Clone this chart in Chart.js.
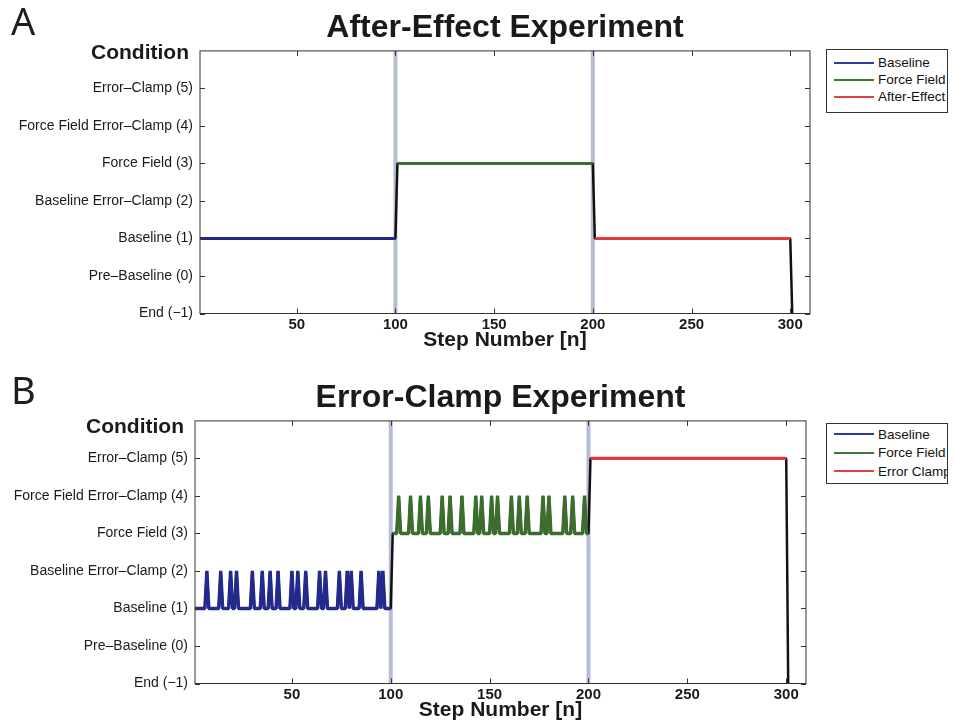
<!DOCTYPE html>
<html>
<head>
<meta charset="utf-8">
<script src="https://cdn.jsdelivr.net/npm/chart.js@4.4.1/dist/chart.umd.min.js"></script>
<style>
  html, body { margin: 0; padding: 0; background: #fff; overflow: hidden; }
  body { width: 955px; height: 728px; position: relative; font-family: 'Liberation Sans', Arial, sans-serif; }
  .panel { position: absolute; left: 0; width: 955px; height: 358px; }
  .panel canvas { position: absolute; left: 0; top: 0; }
  .tag { position: absolute; left: 11px; font-family: 'Noto Sans', 'Open Sans', sans-serif; font-size: 38px; line-height: 38px; color: #1e1e1e; }
  .legend { position: absolute; left: 826px; width: 122px; box-sizing: border-box; border: 1px solid #333; background: #fff;
            font-size: 13.5px; color: #111; overflow: hidden; }
  .legend .row { display: flex; align-items: center; white-space: nowrap; }
  .legend .ln { display: inline-block; flex-shrink: 0; width: 40px; height: 2px; margin: 0 4px 0 7px; }
</style>
</head>
<body>
<div class="panel" style="top:0">
  <canvas id="chartA" width="955" height="358"></canvas>
  <div class="tag" style="top:1px">A</div>
  <div class="legend" id="legendA" style="top:49px; padding:4px 0 7px"></div>
</div>
<div class="panel" style="top:370px">
  <canvas id="chartB" width="955" height="358"></canvas>
  <div class="tag" style="top:0px">B</div>
  <div class="legend" id="legendB" style="top:53px; padding:1px 0 2px"></div>
</div>
<script>
// Achse
const xTicks = [50, 100, 150, 200, 250, 300];
const yTicks = [-1, 0, 1, 2, 3, 4, 5];
const yLabels = ['End (\u22121)', 'Pre\u2013Baseline (0)', 'Baseline (1)', 'Baseline Error\u2013Clamp (2)',
                 'Force Field (3)', 'Force Field Error\u2013Clamp (4)', 'Error\u2013Clamp (5)'];

// Phasen (Schritte)
const phaseStart = [1, 101, 201];
const phaseEnd = [100, 200, 300];
const phaseBounds = [100, 200];
const endStep = 301;
const endLevel = -1;

// A: After-Effect
const levelsA = [1, 3, 1];
const namesA = ['Baseline', 'Force Field', 'After-Effect'];

// B: Error-Clamp, Schritte mit Error-Clamp-Versuch
const levelsB = [1, 3, 5];
const namesB = ['Baseline', 'Force Field', 'Error Clamp'];
const baselineClampB = [7, 14, 19, 22, 30, 35, 39, 43, 50, 53, 57, 64, 67, 74, 78, 80, 85, 94, 96];
const forceFieldClampB = [104, 110, 115, 119, 126, 130, 136, 143, 146, 151, 154, 161, 165, 169, 177, 180, 188, 192, 198];

const phaseColors = ['#232a8c', '#3b6e2e', '#e23a3a'];
const legendColors = ['#2b3aa8', '#3d7a35', '#e0403f'];

Chart.defaults.font.family = "'Liberation Sans', Arial, sans-serif";
Chart.defaults.color = '#1a1a1a';

// Rahmen mit Ticks nach innen (wie Matlab)
const axesBox = {
    id: 'axesBox',
    afterDatasetsDraw(chart) {
        const { ctx, chartArea: a, scales: { x, y } } = chart;
        ctx.save();
        ctx.strokeStyle = '#333';
        ctx.lineWidth = 1;
        ctx.strokeRect(a.left, a.top, a.width, a.height);
        ctx.beginPath();
        x.ticks.forEach(t => {
            const px = Math.round(x.getPixelForValue(t.value)) + 0.5;
            ctx.moveTo(px, a.bottom); ctx.lineTo(px, a.bottom - 5);
            ctx.moveTo(px, a.top); ctx.lineTo(px, a.top + 5);
        });
        y.ticks.forEach(t => {
            const py = Math.round(y.getPixelForValue(t.value)) + 0.5;
            ctx.moveTo(a.left, py); ctx.lineTo(a.left + 5, py);
            ctx.moveTo(a.right, py); ctx.lineTo(a.right - 5, py);
        });
        ctx.stroke();
        ctx.restore();
    }
};

// "Condition" oben links
const conditionLabel = {
    id: 'conditionLabel',
    afterDraw(chart, args, opts) {
        const { ctx, chartArea } = chart;
        ctx.save();
        ctx.font = "bold 21px 'Liberation Sans', Arial, sans-serif";
        ctx.fillStyle = '#1a1a1a';
        ctx.textAlign = 'right';
        ctx.textBaseline = 'middle';
        ctx.fillText('Condition', chartArea.left - 11, chartArea.top + opts.dy);
        ctx.restore();
    }
};

function phasePoints(i, levels, clampSteps) {
    const pts = [];
    for (let s = phaseStart[i]; s <= phaseEnd[i]; s++) {
        pts.push({ x: s, y: clampSteps.includes(s) ? levels[i] + 1 : levels[i] });
    }
    return pts;
}

function makeChart(id, title, levels, names, clampSteps, opts) {
    const phases = levels.map((l, i) => phasePoints(i, levels, clampSteps));
    const allPts = phases.flat().concat([{ x: endStep, y: endLevel }]);

    const datasets = [];
    phases.forEach((pts, i) => {
        datasets.push({ label: names[i], data: pts, borderColor: phaseColors[i], borderWidth: opts.lw, order: 1 });
    });
    datasets.push({ label: 'transition', data: allPts, borderColor: '#111', borderWidth: 2.5, order: 2 });
    phaseBounds.forEach(b => {
        datasets.push({ label: 'bound', data: [{ x: b, y: -1 }, { x: b, y: 6 }],
                        borderColor: 'rgba(150,160,195,0.7)', borderWidth: 4, order: 3 });
    });

    return new Chart(document.getElementById(id), {
        type: 'line',
        data: { datasets: datasets },
        options: {
            responsive: false,
            animation: false,
            devicePixelRatio: 1,
            elements: { point: { radius: 0 }, line: { tension: 0, borderJoinStyle: 'bevel' } },
            layout: { padding: { left: 0, right: opts.padRight, top: 0, bottom: 0 } },
            plugins: {
                legend: { display: false },
                tooltip: { enabled: false },
                title: {
                    display: true,
                    text: title,
                    fullSize: false,
                    color: '#1a1a1a',
                    font: { size: 32, weight: 'bold' },
                    padding: { top: 9, bottom: 3.5 }
                },
                conditionLabel: { dy: opts.condDy }
            },
            scales: {
                x: {
                    type: 'linear',
                    min: 1,
                    max: 310,
                    afterBuildTicks: s => { s.ticks = xTicks.map(v => ({ value: v })); },
                    afterFit: s => { s.height = 44.5; },
                    grid: { display: false, drawTicks: false },
                    border: { display: false },
                    ticks: { padding: 2, autoSkip: false, maxRotation: 0, color: '#1a1a1a',
                             font: { size: 15, weight: 'bold' } },
                    title: { display: true, text: 'Step Number [n]', color: '#1a1a1a',
                             font: { size: 21, weight: 'bold' }, padding: { top: 0, bottom: 5 } }
                },
                y: {
                    type: 'linear',
                    min: -1,
                    max: 6,
                    afterBuildTicks: s => { s.ticks = yTicks.map(v => ({ value: v })); },
                    afterFit: s => { s.width = opts.yWidth; },
                    grid: { display: false, drawTicks: false },
                    border: { display: false },
                    ticks: { padding: 7, autoSkip: false, color: '#1a1a1a', font: { size: 14 },
                             callback: v => yLabels[yTicks.indexOf(v)] }
                }
            }
        },
        plugins: [axesBox, conditionLabel]
    });
}

function buildLegend(elId, names, rowHeight) {
    const el = document.getElementById(elId);
    names.forEach((n, i) => {
        const row = document.createElement('div');
        row.className = 'row';
        row.style.height = rowHeight + 'px';
        row.innerHTML = '<span class="ln" style="background:' + legendColors[i] + '"></span>' + n;
        el.appendChild(row);
    });
}

makeChart('chartA', 'After-Effect Experiment', levelsA, namesA, [],
          { lw: 3, yWidth: 200, padRight: 145, condDy: 2 });
makeChart('chartB', 'Error-Clamp Experiment', levelsB, namesB, baselineClampB.concat(forceFieldClampB),
          { lw: 3.4, yWidth: 195, padRight: 149, condDy: 6 });

buildLegend('legendA', namesA, 17);
buildLegend('legendB', namesB, 18.5);
</script>
</body>
</html>
